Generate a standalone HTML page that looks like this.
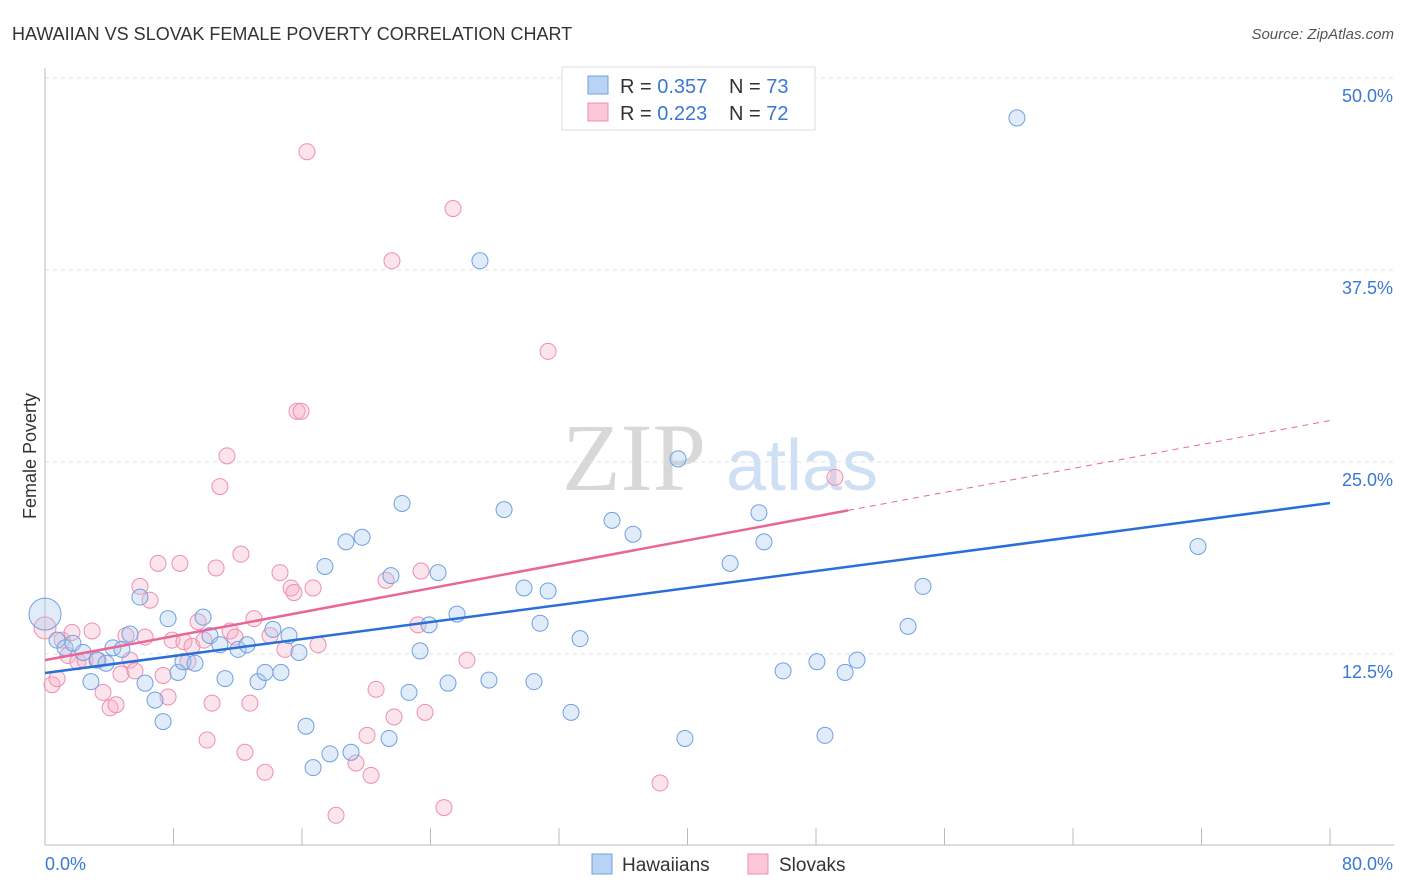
<!DOCTYPE html>
<html><head><meta charset="utf-8"><style>
body{margin:0;background:#fff;font-family:"Liberation Sans",sans-serif;}
#wrap{position:relative;width:1406px;height:892px;overflow:hidden;}
</style></head><body>
<div id="wrap">
<svg id="svg" width="1406" height="892" xmlns="http://www.w3.org/2000/svg">
<text x="12" y="40" font-size="18" fill="#333">HAWAIIAN VS SLOVAK FEMALE POVERTY CORRELATION CHART</text>
<text x="1394" y="39" font-size="15" fill="#555" font-style="italic" text-anchor="end">Source: ZipAtlas.com</text>
<text x="36" y="456" font-size="18" fill="#333" text-anchor="middle" transform="rotate(-90 36 456)">Female Poverty</text>
<g>
<text x="634" y="490" font-size="96" fill="#d8d8d8" text-anchor="middle" font-family="Liberation Serif,serif">ZIP</text>
<text x="802" y="490" font-size="72" fill="#cfe0f5" text-anchor="middle">atlas</text>
</g>
<g id="grid"></g><g id="marks"></g><g id="lines"></g>
<g>
<rect x="562" y="67" width="253" height="63" fill="#fff" stroke="#ddd"/>
<rect x="588" y="76" width="20" height="18" fill="#b9d3f5" stroke="#6fa0e0"/>
<rect x="588" y="103" width="20" height="18" fill="#f9c7d6" stroke="#ee8fae"/>
<text x="620" y="93" font-size="20" fill="#333">R = <tspan fill="#3a78d6">0.357</tspan></text>
<text x="729" y="93" font-size="20" fill="#333">N = <tspan fill="#3a78d6">73</tspan></text>
<text x="620" y="120" font-size="20" fill="#333">R = <tspan fill="#3a78d6">0.223</tspan></text>
<text x="729" y="120" font-size="20" fill="#333">N = <tspan fill="#3a78d6">72</tspan></text>
</g>
<g>
<rect x="592" y="854" width="20" height="20" fill="#b9d3f5" stroke="#6fa0e0"/>
<text x="622" y="871" font-size="19" fill="#333">Hawaiians</text>
<rect x="748" y="854" width="20" height="20" fill="#f9c7d6" stroke="#ee8fae"/>
<text x="779" y="871" font-size="19" fill="#333">Slovaks</text>
</g>
</svg>
</div>
<script>
const yTicks=[12.5,25,37.5,50];
const yTickLabels=["12.5%","25.0%","37.5%","50.0%"];
const xTicks=[0,8,16,24,32,40,48,56,64,72,80];
const xEndLabels=["0.0%","80.0%"];
const hawX=[0,0.75,1.25,1.74,2.37,2.86,3.24,3.8,4.23,4.79,5.29,5.91,6.23,6.85,7.35,7.66,8.28,8.59,9.34,9.84,10.27,10.89,11.21,12.02,12.58,13.26,13.7,14.19,14.69,15.19,15.81,16.25,16.69,17.43,17.74,18.74,19.05,19.74,21.42,21.54,22.23,22.66,23.35,23.91,24.47,25.09,25.65,27.08,27.64,28.58,29.82,30.44,30.82,31.32,32.75,33.31,35.3,36.61,39.41,39.84,42.65,44.45,44.76,45.95,48.06,48.56,49.81,50.55,53.73,54.66,60.51,71.78];
const hawY=[15.1,13.4,12.9,13.2,12.6,10.7,12.1,11.9,12.9,12.8,13.8,16.2,10.6,9.5,8.1,14.8,11.3,12.0,11.9,14.9,13.7,13.1,10.9,12.8,13.1,10.7,11.3,14.1,11.3,13.7,12.6,7.8,5.1,18.2,6.0,19.8,6.1,20.1,7.0,17.6,22.3,10.0,12.7,14.4,17.8,10.6,15.1,38.1,10.8,21.9,16.8,10.7,14.5,16.6,8.7,13.5,21.2,20.3,25.2,7.0,18.4,21.7,19.8,11.4,12.0,7.2,11.3,12.1,14.3,16.9,47.4,19.5];
const slkX=[0,0.44,0.75,1.06,1.43,1.68,2.05,2.49,2.93,3.3,3.61,4.05,4.42,4.73,5.04,5.29,5.6,5.91,6.23,6.54,7.04,7.35,7.66,7.91,8.4,8.65,8.9,9.15,9.53,9.9,10.09,10.4,10.65,10.89,11.33,11.52,11.83,12.2,12.45,12.76,13.01,13.7,14.01,14.63,14.94,15.32,15.5,15.69,15.94,16.31,16.69,17.0,18.12,19.36,20.05,20.3,20.61,21.23,21.6,21.73,23.22,23.41,23.66,24.84,25.4,26.27,31.32,38.29,49.18];
const slkY=[14.2,10.5,10.9,13.4,12.4,13.9,12.0,12.1,14.0,12.1,10.0,9.0,9.2,11.2,13.7,12.1,11.4,16.9,13.6,16.0,18.4,11.1,9.7,13.4,18.4,13.3,12.0,13.0,14.6,13.4,6.9,9.3,18.1,23.4,25.4,14.0,13.6,19.0,6.1,9.3,14.8,4.8,13.7,17.8,12.8,16.8,16.5,28.3,28.3,45.2,16.8,13.1,2.0,5.4,7.2,4.6,10.2,17.3,38.1,8.4,14.4,17.9,8.7,2.5,41.5,12.1,32.2,4.1,24.0];
const hawTrend=[11.26,22.33];
const slkTrend=[12.1,27.7];
const slkSolidEnd=50;
const NS="http://www.w3.org/2000/svg";
const X=v=>45+v*1285/80, Y=v=>846-v*15.36;
function mk(tag,at,parent){const e=document.createElementNS(NS,tag);for(const k in at)e.setAttribute(k,at[k]);parent.appendChild(e);return e;}
const grid=document.getElementById('grid'),marks=document.getElementById('marks'),lines=document.getElementById('lines');
yTicks.forEach((t,i)=>{
 const l=mk('line',{x1:45,x2:1394,y1:Y(t),y2:Y(t),stroke:'#e2e2e2','stroke-dasharray':'4,4'},grid);
 
 const tx=mk('text',{x:1393,y:Y(t)+24,'font-size':18,fill:'#3a78d6','text-anchor':'end'},grid);tx.textContent=yTickLabels[i];
 
});
const ax=mk('line',{x1:45,x2:1394,y1:845,y2:845,stroke:'#bbb'},grid);

const ay=mk('line',{x1:45,x2:45,y1:68,y2:845,stroke:'#bbb'},grid);

xTicks.forEach(t=>{const l=mk('line',{x1:X(t),x2:X(t),y1:828,y2:845,stroke:'#bbb'},grid);
 });
[[0,'start',45],[80,'end',1393]].forEach((a,i)=>{const tx=mk('text',{x:a[2],y:870,'font-size':18,fill:'#3a78d6','text-anchor':a[1]},grid);tx.textContent=xEndLabels[i];
 });
function pts(xs,ys,fill,stroke,name){xs.forEach((x,i)=>{const r=(x===0&&i===0)?(name==='hawaiian-point'?16:11):8;
 const c=mk('circle',{cx:X(x),cy:Y(ys[i]),r:r,fill:fill,'fill-opacity':0.35,stroke:stroke,'stroke-width':1},marks);
 });}
pts(slkX,slkY,'#f7b3c8','#ee8fae','slovak-point');
pts(hawX,hawY,'#a9c8f0','#6fa0e0','hawaiian-point');
const bl=mk('line',{x1:X(0),y1:Y(hawTrend[0]),x2:X(80),y2:Y(hawTrend[1]),stroke:'#2a6fd6','stroke-width':2.5},lines);

const sm=slkTrend[0]+(slkTrend[1]-slkTrend[0])*slkSolidEnd/80;
const pl=mk('line',{x1:X(0),y1:Y(slkTrend[0]),x2:X(slkSolidEnd),y2:Y(sm),stroke:'#e8679a','stroke-width':2.5},lines);

const pd=mk('line',{x1:X(slkSolidEnd),y1:Y(sm),x2:X(80),y2:Y(slkTrend[1]),stroke:'#e8679a','stroke-width':1,'stroke-dasharray':'6,5'},lines);

</script>
</body></html>
